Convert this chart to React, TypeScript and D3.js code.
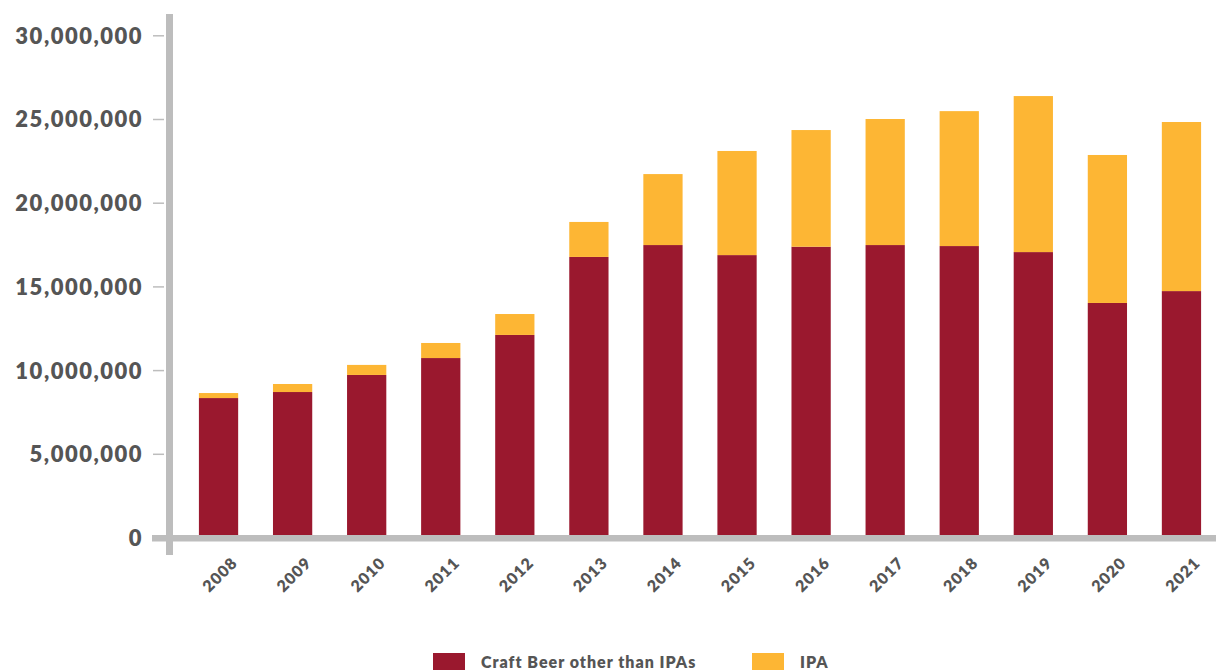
import React from "react";
import * as d3 from "d3";

const years = ["2008","2009","2010","2011","2012","2013","2014","2015","2016","2017","2018","2019","2020","2021"];
const craftOther = [8.36e6, 8.72e6, 9.74e6, 10.75e6, 12.13e6, 16.79e6, 17.5e6, 16.9e6, 17.4e6, 17.5e6, 17.44e6, 17.08e6, 14.04e6, 14.75e6];
const ipa = [0.3e6, 0.48e6, 0.6e6, 0.9e6, 1.25e6, 2.09e6, 4.24e6, 6.22e6, 6.97e6, 7.53e6, 8.06e6, 9.32e6, 8.84e6, 10.1e6];
const yTicks = [0, 5e6, 10e6, 15e6, 20e6, 25e6, 30e6];
const seriesNames = ["Craft Beer other than IPAs", "IPA"];
const colors = ["#9a182e", "#fdb634"];

export default function App() {
  const W = 1216, H = 670;
  const y = d3.scaleLinear().domain([0, 30e6]).range([538, 35.8]);
  const x = d3.scaleBand().domain(years).range([181.5, 1218.5]).paddingInner(0.47).paddingOuter(0.235);
  const fmt = d3.format(",");
  const rows = years.map((yr, i) => ({ year: yr, craft: craftOther[i], ipa: ipa[i] }));
  const stack = d3.stack<any>().keys(["craft", "ipa"])(rows);
  const axisColor = "#bdbdbd";
  const textColor = "#555555";
  const font = "Lato, 'Open Sans', sans-serif";
  return (
    <svg width={W} height={H} style={{ position: "absolute", left: 0, top: 0, background: "#fff" }}>
      {stack.map((s, si) => (
        <g key={si} fill={colors[si]}>
          {s.map((d, i) => (
            <rect key={i} x={x(years[i])} width={x.bandwidth()} y={y(d[1])} height={y(d[0]) - y(d[1])} />
          ))}
        </g>
      ))}
      {/* axes */}
      <rect x={166} y={14} width={7} height={541} fill={axisColor} />
      <rect x={152} y={535} width={W - 152} height={6.5} fill={axisColor} />
      {yTicks.map((t) => (
        <g key={t}>
          {t > 0 && <line x1={153} x2={164} y1={y(t)} y2={y(t)} stroke={axisColor} strokeWidth={1.5} />}
          <text x={143} y={y(t)} dy="0.36em" textAnchor="end" fill={textColor}
            style={{ font: `800 22px ${font}`, letterSpacing: "1.5px" }}>{fmt(t)}</text>
        </g>
      ))}
      {years.map((yr) => {
        const cx = (x(yr) as number) + x.bandwidth() / 2;
        const tx = cx + 12, ty = 556;
        return (
          <text key={yr} x={tx} y={ty} textAnchor="end" fill={textColor}
            transform={`rotate(-45 ${tx} ${ty})`} dy="0.7em"
            style={{ font: `800 16px ${font}`, letterSpacing: "1px" }}>{yr}</text>
        );
      })}
      {/* legend */}
      {seriesNames.map((n, i) => {
        const lx = [433, 752][i];
        return (
          <g key={n}>
            <rect x={lx} y={653} width={32} height={17} fill={colors[i]} />
            <text x={lx + 48} y={668} fill={textColor} style={{ font: `800 16px ${font}`, letterSpacing: "1px" }}>{n}</text>
          </g>
        );
      })}
    </svg>
  );
}
